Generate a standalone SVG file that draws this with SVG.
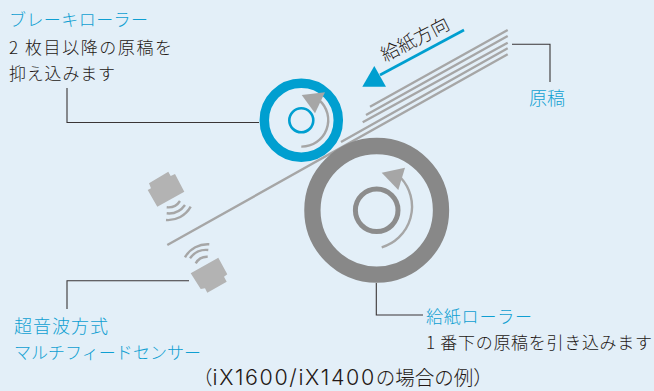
<svg xmlns="http://www.w3.org/2000/svg" width="654" height="391" viewBox="0 0 654 391">
<defs><style>
text{font-family:"Noto Sans CJK JP","Noto Sans",sans-serif;font-size:17px;font-weight:300;fill:#231815}
text.b{fill:#0f9fd2}
.cap{font-size:19.500px}
.lat{font-family:Inter,"Noto Sans",sans-serif;font-size:21.500px;letter-spacing:1.600px}
.ld{fill:none;stroke:#3a3536;stroke-width:1.100}
.p{fill:none;stroke:#a6a6a6;stroke-width:2.400}
.w{fill:none;stroke:#a6a6a6;stroke-width:2.400}
.s{fill:#b3b3b3}
.a{fill:#a6a6a6}
</style></defs>
<rect width="654" height="391" fill="#e3eff8"/>
<g id="connectors">
<path class="ld" d="M259 122.500H67V88"/>
<path class="ld" d="M512 44.300H550V82"/>
<path class="ld" d="M376.300 283V315H423"/>
<path class="ld" d="M189 280.700H67V309"/>
<path d="M464 30L380 75" fill="none" stroke="#009fd0" stroke-width="2.600"/>
<path fill="#009fd0" d="M374.300 66L362.300 86.700H386Z"/>
</g>
<g id="paper">
<path class="p" d="M370 106.700L507.700 30M366 115L507.700 36M362.700 122.300L507.700 42.700M341 142L507.700 48.300M167.300 245L507.700 54.300"/>
</g>
<g id="break-roller">
<circle cx="301.300" cy="120.300" r="37" fill="none" stroke="#009fd0" stroke-width="9.500"/>
<circle cx="301.300" cy="120.300" r="12" fill="none" stroke="#009fd0" stroke-width="2.600"/>
<path class="p" d="M301.300 146.600A26.500 26.500 0 0 0 319 100"/>
<path class="a" d="M301.700 95L325 92.300L315 113.300Z"/>
</g>
<g id="feed-roller">
<circle cx="376.700" cy="210.300" r="64.300" fill="none" stroke="#888888" stroke-width="16.300"/>
<circle cx="376.700" cy="210.300" r="21.300" fill="none" stroke="#8c8c8c" stroke-width="5"/>
<path class="p" d="M381.700 247.300A42.500 42.500 0 0 0 401 178"/>
<path class="a" d="M381.700 172.700L405 167.700L398.300 190Z"/>
</g>
<g id="sensor-top">
<path class="s" d="M149 183.300L168.300 171.700L170.700 176L175 174L184.300 191.700L157.300 206.700L147.700 190L151 188.300Z"/>
<path class="w" d="M180 201A14 14 0 0 1 166.700 207.300M185 205A20 20 0 0 1 166.700 213.300M190.700 206.700A26 26 0 0 1 166 220"/>
</g>
<g id="sensor-bottom">
<path class="s" d="M190.700 273.300L218.300 257.700L227.300 274.300L224 276.700L226.700 281.700L207.300 292.700L205 288.300L200.700 289Z"/>
<path class="w" d="M195.700 263.300A13 13 0 0 1 207.700 256.700M190 258.300A20 20 0 0 1 208.300 250M185 257.300A26 26 0 0 1 209.300 244.300"/>
</g>
<g id="labels">
<text class="b" x="9" y="26" textLength="139">ブレーキローラー</text>
<text x="9" y="54" textLength="163">2 枚目以降の原稿を</text>
<text x="9" y="80" textLength="106">抑え込みます</text>
<text class="b" x="529" y="104.500" style="font-size:18px">原稿</text>
<text class="b" x="14" y="332.500" textLength="94" style="font-size:18px">超音波方式</text>
<text class="b" x="14" y="358.500" textLength="187">マルチフィードセンサー</text>
<text class="b" x="426" y="322.500" textLength="106">給紙ローラー</text>
<text x="426" y="349" textLength="226">1 番下の原稿を引き込みます</text>
<text class="cap" x="193" y="385">（<tspan class="lat">iX1600/iX1400</tspan>の場合の例）</text>
<text transform="translate(385 62) rotate(-27)" style="font-size:18.500px">給紙方向</text>
</g>
</svg>
